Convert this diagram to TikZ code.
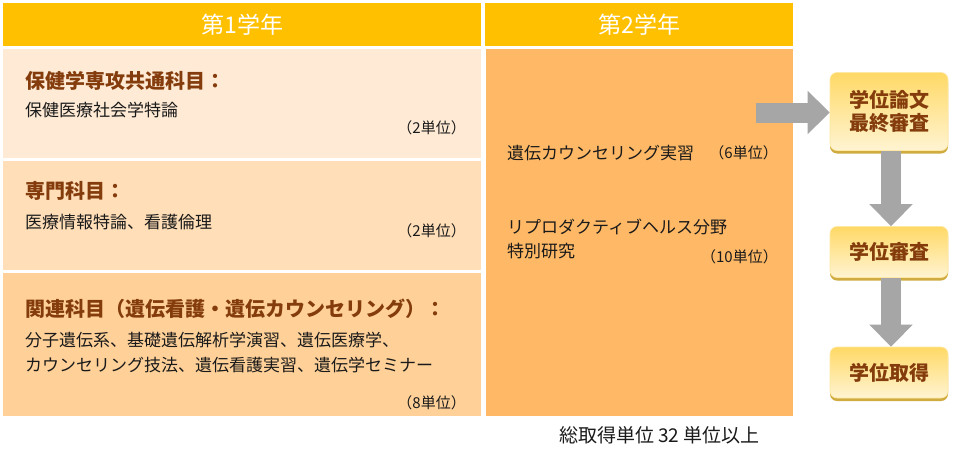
\documentclass[tikz,border=0pt]{standalone}
\usepackage{fontspec}
\setmainfont{Noto Sans CJK JP}
\usetikzlibrary{arrows.meta,shadows,calc}
\definecolor{hdr}{HTML}{FFC000}
\definecolor{rowa}{HTML}{FFEBD5}
\definecolor{rowb}{HTML}{FFDEB8}
\definecolor{rowc}{HTML}{FFD199}
\definecolor{colb}{HTML}{FFB966}
\definecolor{brn}{HTML}{843C0C}
\definecolor{txt}{HTML}{1A1A1A}
\definecolor{arr}{HTML}{A6A6A6}
\definecolor{btop}{HTML}{FFD966}
\definecolor{bbot}{HTML}{FFF4D2}
\definecolor{bshadow}{HTML}{BF8F00}
\tikzset{
  cell/.style={draw=none, inner sep=0pt, anchor=north west},
  hdrtext/.style={text=white, font=\fontsize{23}{25}\selectfont, inner sep=0pt},
  headtext/.style={text=brn, font=\fontsize{20}{22}\selectfont\bfseries, anchor=west, inner sep=0pt},
  bodytext/.style={text=txt, font=\fontsize{17}{25}\selectfont, anchor=west, inner sep=0pt, align=left},
  credit/.style={text=txt, font=\fontsize{15}{17}\selectfont, anchor=east, inner sep=0pt},
  stagebox/.style={rounded corners=7pt, top color=btop, bottom color=bbot, draw=btop!60!white, line width=0.6pt,
    minimum width=118pt, text=brn, font=\fontsize{20}{23}\selectfont\bfseries, align=center, inner sep=0pt,
    drop shadow={shadow xshift=0pt, shadow yshift=-3pt, fill=bshadow, opacity=0.75}},
  blockarrow/.style={draw=arr, line width=20pt, -{Triangle[width=42pt,length=22pt]}}
}
\begin{document}
\begin{tikzpicture}[x=1pt,y=-1pt]
\useasboundingbox[fill=white] (0,0) rectangle (960,450);
% headers
\node[cell, fill=hdr, minimum width=478pt, minimum height=43pt] (h1) at (3,3) {};
\node[cell, fill=hdr, minimum width=308pt, minimum height=43pt] (h2) at (485,3) {};
\node[hdrtext] (h1t) at (h1.center) {第1学年};
\node[hdrtext] (h2t) at (h2.center) {第2学年};
% first-year rows
\node[cell, fill=rowa, minimum width=478pt, minimum height=109pt] (r1) at (3,49) {};
\node[cell, fill=rowb, minimum width=478pt, minimum height=109pt] (r2) at (3,161) {};
\node[cell, fill=rowc, minimum width=478pt, minimum height=143pt] (r3) at (3,273) {};
% second-year column
\node[cell, fill=colb, minimum width=307pt, minimum height=367pt] (c2) at (486,49) {};
% row 1 texts
\node[headtext] (t1) at (25,81) {保健学専攻共通科目：};
\node[bodytext] (t1b) at (25,110) {保健医療社会学特論};
\node[credit] (t1c) at (466,128) {（2単位）};
% row 2 texts
\node[headtext] (t2) at (25,191) {専門科目：};
\node[bodytext] (t2b) at (25,222) {医療情報特論、看護倫理};
\node[credit] (t2c) at (466,231) {（2単位）};
% row 3 texts
\node[headtext] (t3) at (25,309) {関連科目（遺伝看護・遺伝カウンセリング）：};
\node[bodytext] (t3b) at (25,340) {分子遺伝系、基礎遺伝解析学演習、遺伝医療学、};
\node[bodytext] (t3c) at (25,365) {カウンセリング技法、遺伝看護実習、遺伝学セミナー};
\node[credit] (t3d) at (466,403) {（8単位）};
% column 2 texts
\node[bodytext] (s1) at (507,153) {遺伝カウンセリング実習};
\node[credit] (s1c) at (778,153) {（6単位）};
\node[bodytext] (s2) at (507,227) {リプロダクティブヘルス分野};
\node[bodytext] (s2b) at (507,251) {特別研究};
\node[credit] (s2c) at (778,257) {（10単位）};
% total
\node[text=txt, font=\fontsize{19}{21}\selectfont, anchor=west, inner sep=0pt] (tot) at (559,435) {総取得単位 32 単位以上};
% stage boxes
\node[stagebox, minimum height=78pt] (b1) at (889,111.5) {学位論文\\最終審査};
\node[stagebox, minimum height=51pt] (b2) at (889,252) {学位審査};
\node[stagebox, minimum height=51pt] (b3) at (889,372.5) {学位取得};
% arrows
\coordinate (a0) at (756,112.5);
\draw[blockarrow] (a0) -- (a0 -| b1.west);
\draw[blockarrow] ($(b1.south)+(2,0)$) -- ($(b2.north)+(2,0)$);
\draw[blockarrow] ($(b2.south)+(2,0)$) -- ($(b3.north)+(2,0)$);
\end{tikzpicture}
\end{document}
